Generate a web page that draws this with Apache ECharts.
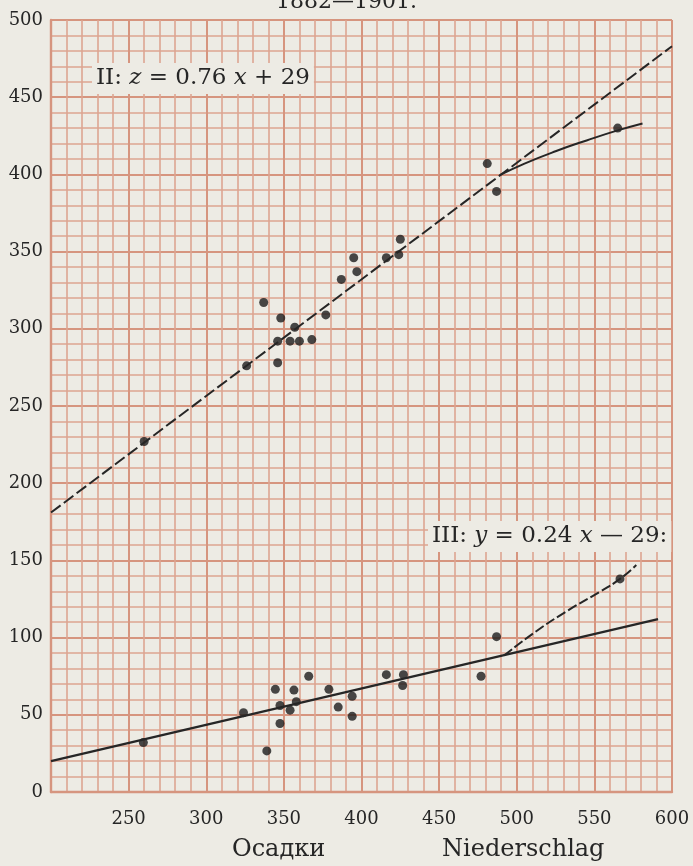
<!DOCTYPE html>
<html><head><meta charset="utf-8">
<script src="https://cdn.jsdelivr.net/npm/echarts@6/dist/echarts.min.js"></script>
<style>html,body{margin:0;padding:0;background:#edebe4;}#c{width:693px;height:866px;}</style>
</head><body><div id="c"></div>
<script>
// ---- data ----
const titleText = '1882—1901.';
const xNameRu = 'Осадки';
const xNameDe = 'Niederschlag';
const xTickLabels = [250, 300, 350, 400, 450, 500, 550, 600];
const yTickLabels = [0, 50, 100, 150, 200, 250, 300, 350, 400, 450, 500];
// series II (z) points
const pointsII = [[481,407],[487,389],[425,358],[424,348],[416,346],[395,346],[397,337],[387,332],[377,309],[337,317],
                  [348,307],[357,301],[346,292],[354,292],[360,292],[368,293],[346,278],[326,276],[260,227],[565,430]];
// series III (y) points
const pointsIII = [[487,100.6],[477,75],[416,76],[427,76],[426.5,69],[394,62],[379,66.5],[385,55],[394,49],[366,75],
                   [356.5,66],[344.5,66.5],[347.5,56],[358,58.5],[354,53],[347.5,44.4],[324,51.4],[339,26.6],[259.5,32],[566.5,138]];
const lineII = [[200,181],[600,483]];
const curveII = [[489,399.5],[505,407],[525,415],[545,422],[565,428.5],[581,433]];
const lineIII = [[200,20],[591,112]];
const curveIII = [[492,88.5],[511,103],[532,117],[554,130],[566.5,138],[577,147]];
const eqII = ['II: ', 'z', ' = 0.76 ', 'x', ' + 29'];
const eqIII = ['III: ', 'y', ' = 0.24 ', 'x', ' — 29:'];

// ---- styles ----
const paper = '#edebe4';
const gridMinor = '#dca591';
const gridMajor = '#d6957f';
const ink = '#262626';
const dot = '#1c1c1c';
const serif = 'DejaVu Serif';

function eq(parts){
  return '{r|' + parts[0] + '}{i|' + parts[1] + '}{r|' + parts[2] + '}{i|' + parts[3] + '}{r|' + parts[4] + '}';
}
const eqRich = {
  r: {fontFamily: serif, fontSize: 23, fontWeight: 'normal', color: ink},
  i: {fontFamily: serif, fontSize: 23, fontWeight: 'normal', color: ink, fontStyle: 'italic'}
};

const chart = echarts.init(document.getElementById('c'), null, {renderer: 'canvas'});
chart.setOption({
  backgroundColor: paper,
  animation: false,
  title: [
    {text: titleText, left: 'center', top: -14, textStyle: {fontFamily: serif, fontSize: 22, fontWeight: 'normal', color: ink}},
    {text: xNameRu, left: 227, top: 833, textStyle: {fontFamily: serif, fontSize: 24, fontWeight: 'normal', color: ink}},
    {text: xNameDe, left: 437, top: 833, textStyle: {fontFamily: serif, fontSize: 24, fontWeight: 'normal', color: ink}},
    {text: eq(eqII), left: 92, top: 63, padding: [4, 4, 4, 4], backgroundColor: paper,
     textStyle: {fontWeight: 'normal', rich: eqRich}},
    {text: eq(eqIII), left: 428, top: 521, padding: [4, 4, 4, 4], backgroundColor: paper,
     textStyle: {fontWeight: 'normal', rich: eqRich}}
  ],
  grid: {left: 51, right: 21, top: 20, bottom: 74, show: false},
  xAxis: {
    type: 'value', min: 200, max: 600, interval: 50,
    axisLine: {show: true, onZero: false, lineStyle: {color: gridMajor, width: 2.4}},
    axisTick: {show: false},
    axisLabel: {
      margin: 18, fontFamily: serif, fontSize: 18, color: ink,
      formatter: v => xTickLabels.includes(v) ? String(v) : ''
    },
    splitLine: {show: true, lineStyle: {color: gridMajor, width: 2}},
    minorTick: {show: false, splitNumber: 5},
    minorSplitLine: {show: true, lineStyle: {color: gridMinor, width: 1.6}}
  },
  yAxis: {
    type: 'value', min: 0, max: 500, interval: 50,
    axisLine: {show: true, onZero: false, lineStyle: {color: gridMajor, width: 2.4}},
    axisTick: {show: false},
    axisLabel: {
      margin: 8, fontFamily: serif, fontSize: 18, color: ink,
      formatter: v => yTickLabels.includes(v) ? String(v) : ''
    },
    splitLine: {show: true, lineStyle: {color: gridMajor, width: 2}},
    minorTick: {show: false, splitNumber: 5},
    minorSplitLine: {show: true, lineStyle: {color: gridMinor, width: 1.6}}
  },
  series: [
    {type: 'line', data: lineII, showSymbol: false, lineStyle: {color: ink, width: 2, type: [12, 4]}},
    {type: 'line', data: curveII, smooth: true, showSymbol: false, lineStyle: {color: ink, width: 2}},
    {type: 'line', data: lineIII, showSymbol: false, lineStyle: {color: ink, width: 2.4}},
    {type: 'line', data: curveIII, smooth: true, showSymbol: false, lineStyle: {color: ink, width: 2, type: [10, 3]}},
    {type: 'scatter', data: pointsII, symbol: 'circle', symbolSize: 9, itemStyle: {color: dot}},
    {type: 'scatter', data: pointsIII, symbol: 'circle', symbolSize: 9, itemStyle: {color: dot}}
  ]
});
</script></body></html>
